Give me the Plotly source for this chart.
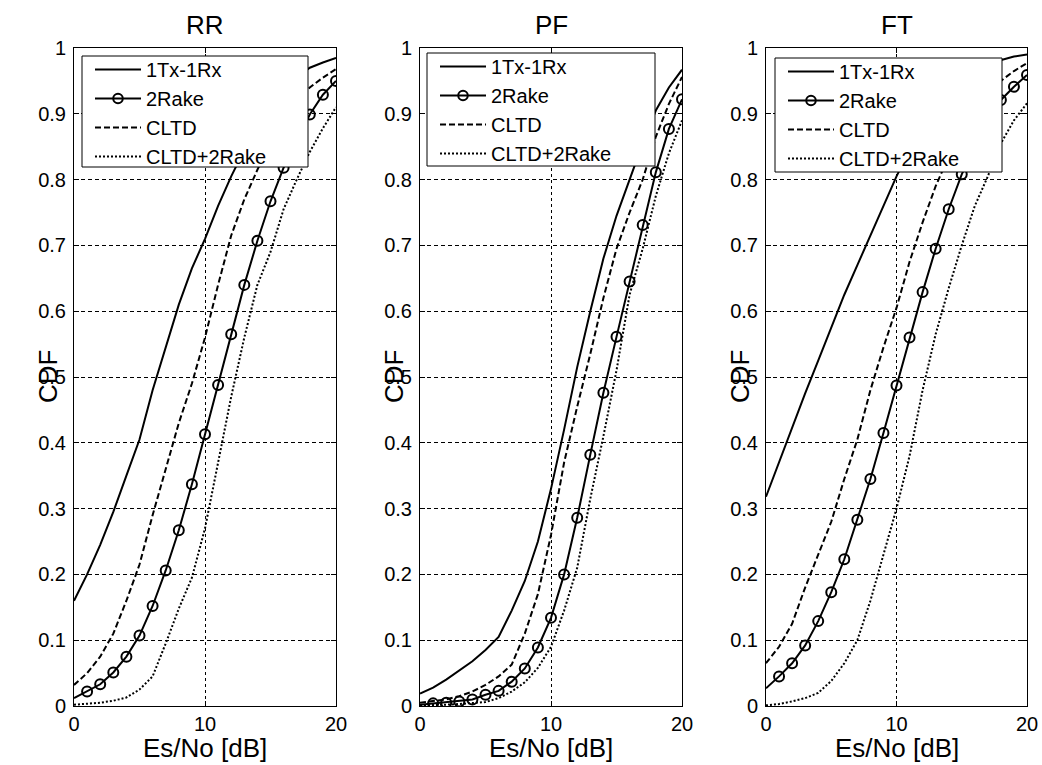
import plotly.graph_objects as go

# ---------------- data ----------------
snr_db = list(range(21))  # Es/No [dB]

series_names = ["1Tx-1Rx", "2Rake", "CLTD", "CLTD+2Rake"]
panel_titles = ["RR", "PF", "FT"]

rr_1tx = [0.16, 0.20, 0.245, 0.295, 0.35, 0.405, 0.48, 0.545, 0.61, 0.665, 0.71,
          0.76, 0.805, 0.845, 0.88, 0.91, 0.935, 0.955, 0.97, 0.978, 0.985]
rr_2rake = [0.012, 0.022, 0.033, 0.051, 0.075, 0.107, 0.152, 0.206, 0.267, 0.337, 0.413,
            0.488, 0.565, 0.640, 0.707, 0.767, 0.818, 0.86, 0.899, 0.929, 0.950]
rr_cltd = [0.032, 0.05, 0.075, 0.11, 0.16, 0.215, 0.29, 0.36, 0.43, 0.49, 0.56,
           0.64, 0.715, 0.77, 0.815, 0.855, 0.89, 0.915, 0.94, 0.955, 0.968]
rr_cltd_2rake = [0.002, 0.003, 0.005, 0.008, 0.013, 0.025, 0.045, 0.095, 0.148, 0.195, 0.27,
                 0.37, 0.47, 0.56, 0.64, 0.69, 0.755, 0.80, 0.842, 0.878, 0.91]

pf_1tx = [0.019, 0.028, 0.04, 0.054, 0.068, 0.085, 0.105, 0.145, 0.19, 0.25, 0.33,
          0.42, 0.515, 0.60, 0.68, 0.745, 0.80, 0.855, 0.905, 0.94, 0.967]
pf_2rake = [0.002, 0.004, 0.005, 0.007, 0.010, 0.017, 0.023, 0.037, 0.057, 0.089, 0.134,
            0.200, 0.286, 0.382, 0.476, 0.561, 0.645, 0.731, 0.811, 0.877, 0.922]
pf_cltd = [0.005, 0.007, 0.01, 0.015, 0.022, 0.032, 0.045, 0.063, 0.11, 0.17, 0.26,
           0.37, 0.455, 0.535, 0.62, 0.695, 0.75, 0.80, 0.865, 0.915, 0.956]
pf_cltd_2rake = [0.001, 0.001, 0.002, 0.003, 0.004, 0.006, 0.012, 0.022, 0.036, 0.058, 0.09,
                 0.145, 0.21, 0.315, 0.41, 0.51, 0.625, 0.695, 0.775, 0.84, 0.89]

ft_1tx = [0.318, 0.37, 0.425, 0.475, 0.525, 0.575, 0.625, 0.67, 0.715, 0.76, 0.805,
          0.845, 0.88, 0.91, 0.935, 0.955, 0.967, 0.976, 0.982, 0.987, 0.99]
ft_2rake = [0.027, 0.045, 0.065, 0.092, 0.129, 0.173, 0.223, 0.283, 0.345, 0.415, 0.487,
            0.56, 0.629, 0.695, 0.755, 0.808, 0.85, 0.888, 0.921, 0.941, 0.959]
ft_cltd = [0.065, 0.09, 0.125, 0.18, 0.23, 0.28, 0.345, 0.405, 0.48, 0.545, 0.605,
           0.675, 0.735, 0.79, 0.835, 0.87, 0.90, 0.925, 0.95, 0.965, 0.977]
ft_cltd_2rake = [0.001, 0.003, 0.007, 0.012, 0.02, 0.038, 0.065, 0.10, 0.16, 0.23, 0.30,
                 0.38, 0.48, 0.565, 0.635, 0.70, 0.76, 0.805, 0.855, 0.89, 0.916]

x_ticks = [0, 10, 20]
y_ticks = [0, 0.1, 0.2, 0.3, 0.4, 0.5, 0.6, 0.7, 0.8, 0.9, 1]

panels = [
    [rr_1tx, rr_2rake, rr_cltd, rr_cltd_2rake],
    [pf_1tx, pf_2rake, pf_cltd, pf_cltd_2rake],
    [ft_1tx, ft_2rake, ft_cltd, ft_cltd_2rake],
]

# ---------------- layout geometry (pixels) ----------------
W, H = 1042, 765
FONT = "Liberation Sans, Arial, Helvetica, sans-serif"
x_px = [(74, 336), (420, 682), (766, 1027)]
y_px = (48, 706)
legend_box_px = [(82, 56, 308, 167), (427, 53, 655, 166), (775, 58, 1002, 172)]


def px_x(p):
    return p / W


def px_y(p):
    return 1 - p / H


styles = [
    dict(mode="lines", line=dict(color="black", width=2, dash="solid")),
    dict(mode="lines+markers", line=dict(color="black", width=2, dash="solid"),
         marker=dict(symbol="circle-open", color="black", opacity=1,
                     line=dict(color="black", width=2))),
    dict(mode="lines", line=dict(color="black", width=2, dash="6px,3px")),
    dict(mode="lines", line=dict(color="black", width=2, dash="2px,2px")),
]

fig = go.Figure()
for i, data in enumerate(panels):
    xa = "x" if i == 0 else f"x{i+1}"
    ya = "y" if i == 0 else f"y{i+1}"
    lg = "legend" if i == 0 else f"legend{i+1}"
    for j, (name, vals) in enumerate(zip(series_names, data)):
        st = styles[j]
        kw = dict(x=snr_db, y=vals, name=name, xaxis=xa, yaxis=ya, legend=lg,
                  mode=st["mode"], line=st["line"])
        if "marker" in st:
            m = dict(st["marker"])
            m["size"] = [0 if v == 0 else 10 for v in snr_db]
            kw["marker"] = m
        fig.add_trace(go.Scatter(**kw))

layout = dict(
    width=W, height=H,
    margin=dict(l=0, r=0, t=0, b=0),
    paper_bgcolor="white", plot_bgcolor="white",
    font=dict(family=FONT, color="black", size=20),
    shapes=[], annotations=[],
)

for i in range(3):
    sfx = "" if i == 0 else str(i + 1)
    x0, x1 = x_px[i]
    layout["xaxis" + sfx] = dict(
        domain=[px_x(x0), px_x(x1)], range=[0, 20], anchor="y" + sfx,
        tickvals=x_ticks, ticks="inside", ticklen=5, tickcolor="black",
        showline=True, linecolor="black", linewidth=1, mirror="ticks",
        showgrid=True, gridcolor="black", gridwidth=1, griddash="3px,3px",
        zeroline=False, tickfont=dict(size=20, family=FONT, color="black"),
        automargin=False, fixedrange=True,
    )
    layout["yaxis" + sfx] = dict(
        domain=[px_y(y_px[1]), px_y(y_px[0])], range=[0, 1], anchor="x" + sfx,
        tickvals=y_ticks, ticks="inside", ticklen=5, tickcolor="black",
        showline=True, linecolor="black", linewidth=1, mirror="ticks",
        showgrid=True, gridcolor="black", gridwidth=1, griddash="4px,3px",
        zeroline=False, tickfont=dict(size=20, family=FONT, color="black"),
        ticklabelstandoff=3,
        automargin=False, fixedrange=True,
    )
    # legend box (drawn over the plot, under the legend text)
    bx0, by0, bx1, by1 = legend_box_px[i]
    layout["shapes"].append(dict(
        type="rect", xref="paper", yref="paper", layer="above",
        x0=px_x(bx0), x1=px_x(bx1), y0=px_y(by1), y1=px_y(by0),
        fillcolor="white", line=dict(color="black", width=1),
    ))
    layout["legend" + sfx] = dict(
        x=px_x(bx0 + 8), y=px_y(by0 - 6), xanchor="left", yanchor="top",
        xref="paper", yref="paper",
        bgcolor="rgba(0,0,0,0)", borderwidth=0,
        font=dict(size=20, family=FONT, color="black"),
        itemwidth=46, tracegroupgap=0,
    )
    cx = px_x((x0 + x1) / 2)
    layout["annotations"].append(dict(
        text=panel_titles[i], x=cx, y=px_y(25), xref="paper", yref="paper",
        showarrow=False, xanchor="center", yanchor="middle",
        font=dict(size=26, family=FONT, color="black"),
    ))
    layout["annotations"].append(dict(
        text="Es/No [dB]", x=cx, y=px_y(748), xref="paper", yref="paper",
        showarrow=False, xanchor="center", yanchor="middle",
        font=dict(size=26, family=FONT, color="black"),
    ))
    layout["annotations"].append(dict(
        text="CDF", x=px_x(x0 - 26), y=px_y((y_px[0] + y_px[1]) / 2),
        xref="paper", yref="paper", textangle=-90,
        showarrow=False, xanchor="center", yanchor="middle",
        font=dict(size=26, family=FONT, color="black"),
    ))

fig.update_layout(**layout)
fig.write_html("out.html")
